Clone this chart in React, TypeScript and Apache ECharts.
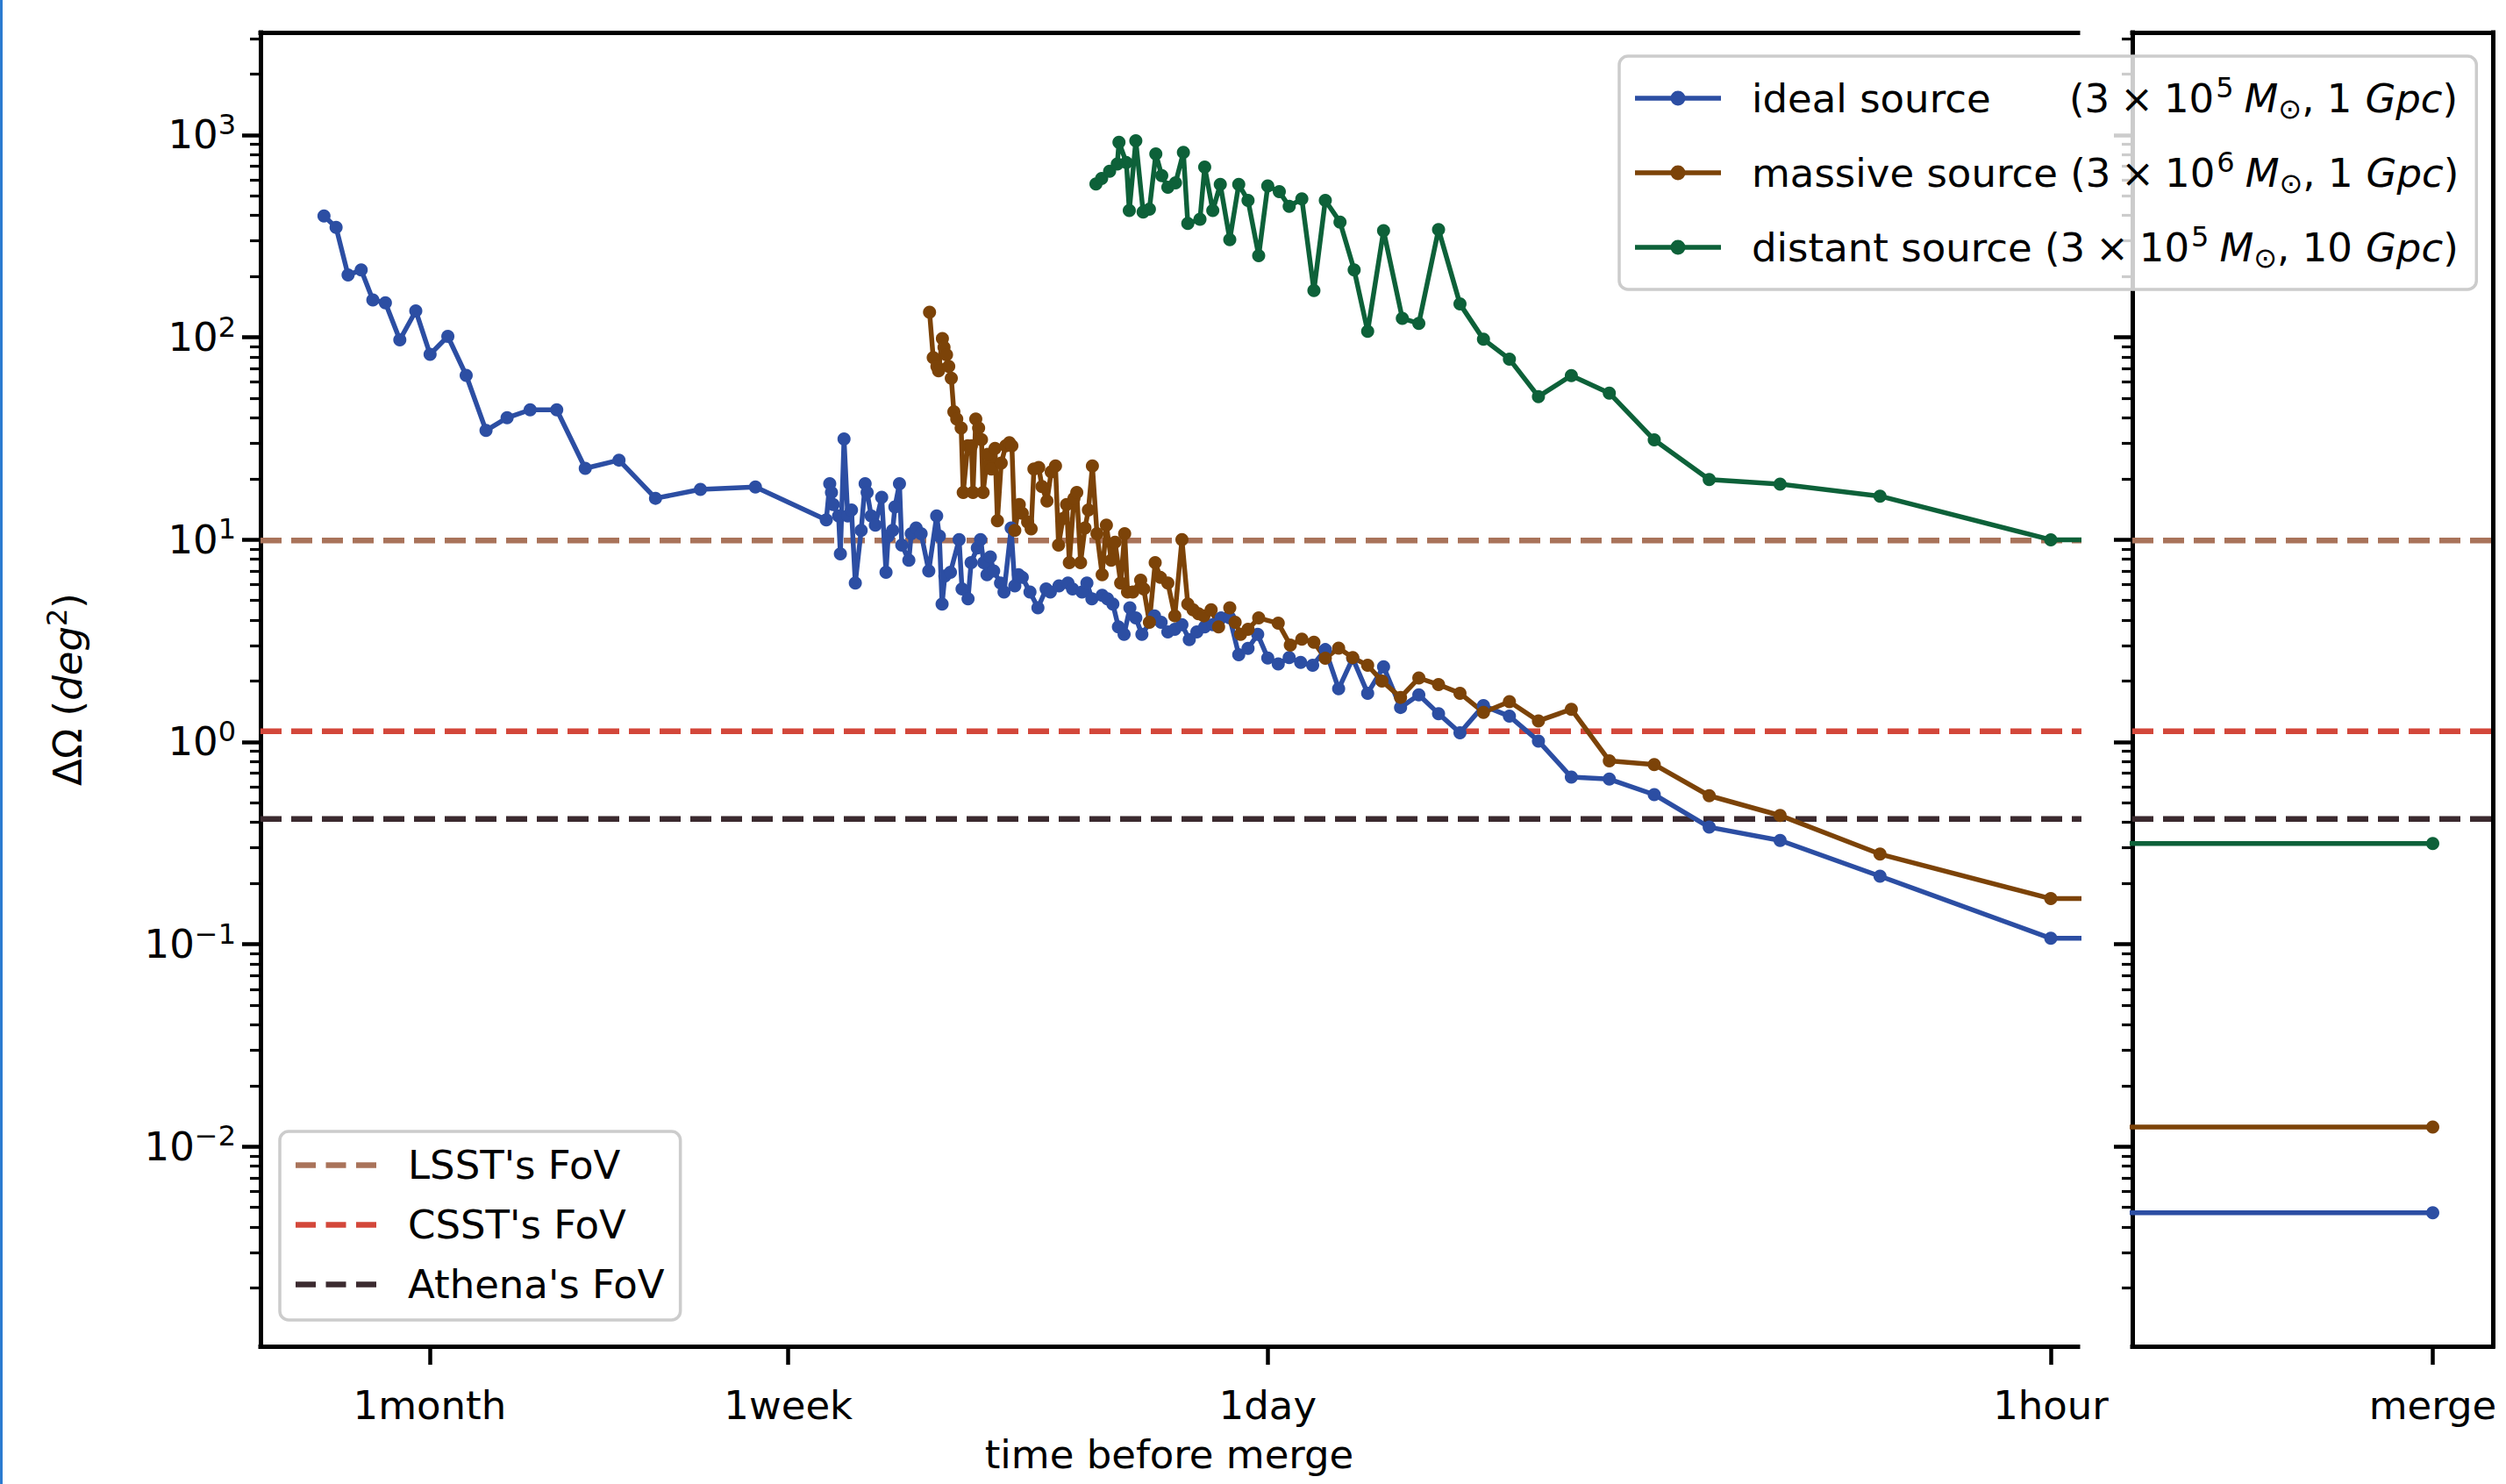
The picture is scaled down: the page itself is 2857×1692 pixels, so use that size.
import React, { useEffect, useRef } from 'react';
import * as echarts from 'echarts';

const FONT = 'DejaVu Sans';

// ---- axes ----
const xTickHours = [720, 168, 24, 1];
const xTickLabels = ['1month', '1week', '1day', '1hour'];
const xRangeHours = [0.8956, 1431];
const yRange = [0.00103, 3210];
const yMajorExponents = [-2, -1, 0, 1, 2, 3];
const yMinorMultipliers = [2, 3, 4, 5, 6, 7, 8, 9];
const mergeTickLabel = 'merge';
const mergeRange = [0, 1.2];
const mergePosition = 1;

// ---- sources ----
const sourceNames = ['ideal source', 'massive source', 'distant source'];
const sourceMassExp = ['5', '6', '5'];
const sourceDistGpc = ['1', '1', '10'];
const sourceColors = ['#2c4ea3', '#7c4308', '#0d6139'];

// hours before merge / sky localisation area (deg^2)
const idealHours = [
  1106, 1053, 1003, 951, 907, 862, 813, 762, 719, 669, 621, 573, 526, 479, 430, 383, 334, 288, 240, 192,
  144, 142, 141, 140, 137, 136, 134, 132, 130, 128, 125, 123, 122, 120, 118, 115, 113, 112, 110, 109,
  107, 106, 103, 102, 100, 98, 95, 92, 91, 90, 89, 87, 84, 83, 81, 80, 78, 77, 76, 75,
  74, 73, 71, 70, 68, 67, 66, 65, 63, 61, 59, 58, 56, 54, 53, 51, 50, 49, 47, 46,
  45, 44, 43, 42, 41, 40, 38, 37, 36, 35, 34, 33, 32, 31, 30, 29, 28, 27, 26, 25, 24,
  23, 22, 21, 20, 19, 18, 17, 16, 15, 14, 13, 12, 11, 10, 9, 8, 7, 6, 5, 4, 3, 2, 1, 0.5,
];
const idealValues = [
  398, 349, 203, 215, 153, 148, 97.1, 135, 82.3, 101, 64.8, 34.6, 40.0, 43.8, 43.8, 22.5, 24.7, 16.0, 17.7, 18.2,
  12.5, 18.9, 17.1, 14.9, 13.1, 8.5, 31.4, 13.1, 14.0, 6.1, 11.1, 18.9, 17.1, 13.1, 11.8, 16.2, 6.9, 10.4, 11.1, 14.5,
  18.9, 9.4, 7.9, 10.7, 11.4, 10.7, 7.0, 13.1, 10.4, 4.8, 6.6, 6.9, 10.0, 5.7, 5.1, 7.7, 9.1, 10.0, 7.7, 6.7,
  8.2, 7.0, 6.1, 5.5, 11.4, 5.9, 6.7, 6.5, 5.5, 4.6, 5.7, 5.5, 5.9, 6.1, 5.7, 5.5, 6.1, 5.1, 5.3, 5.1,
  4.8, 3.7, 3.4, 4.6, 4.1, 3.4, 4.2, 3.9, 3.5, 3.6, 3.8, 3.2, 3.5, 3.7, 3.8, 4.1, 4.1, 2.7, 2.9, 3.4, 2.6,
  2.43, 2.61, 2.47, 2.39, 2.86, 1.83, 2.59, 1.74, 2.35, 1.48, 1.71, 1.38, 1.11, 1.51, 1.34, 1.01, 0.67, 0.655, 0.549, 0.379, 0.326, 0.217, 0.107, 0.107,
];

const massiveHours = [
  94.7, 93.3, 91.9, 91.3, 89.9, 89.3, 88.4, 87.6, 86.7, 85.8,
  84.8, 83.3, 82.6, 81.1, 79.9, 79.4, 78.5, 77.6, 76.7, 76.2,
  74.8, 73.7, 72.6, 71.9, 70.8, 69.5, 68.5, 67.8, 67.0, 65.8,
  65.0, 63.6, 62.7, 62.0, 60.8, 60.0, 58.8, 57.8, 56.8, 56.1,
  55.1, 54.3, 53.7, 52.7, 52.1, 51.3, 50.4, 49.7, 48.9, 48.0,
  47.0, 46.2, 45.3, 44.6, 43.6, 42.9, 42.4, 41.5, 40.2, 39.7,
  38.8, 37.9, 37.1, 36.0, 35.0, 34.0, 33.2, 32.5, 31.8, 31.1,
  30.2, 29.3, 28.0, 27.4, 26.8, 26.0, 24.9, 23.0, 21.9, 20.9,
  19.9, 19.0, 18.0, 17.0, 16.0, 15.1, 14.0, 13.0, 12.0, 11.0,
  10.0, 9.0, 8.0, 7.0, 6.0, 5.0, 4.0, 3.0, 2.0, 1.0, 0.5,
];
const massiveValues = [
  133, 79.3, 71.8, 68.3, 98.6, 89.2, 82.0, 71.8, 62.8, 42.8,
  39.4, 35.6, 17.1, 29.1, 29.1, 17.1, 39.4, 35.6, 31.2, 17.1,
  26.4, 22.3, 28.2, 12.4, 23.9, 29.1, 30.1, 29.1, 11.1, 14.9,
  13.5, 12.2, 11.3, 22.3, 22.7, 18.3, 15.5, 21.6, 23.1, 9.4,
  12.7, 14.9, 7.7, 16.0, 17.1, 7.7, 11.4, 14.0, 23.1, 10.7,
  6.7, 11.8, 7.9, 9.7, 6.1, 10.7, 5.5, 5.5, 6.3, 5.7,
  3.9, 7.7, 6.5, 6.1, 4.2, 10.0, 4.8, 4.5, 4.3, 4.2,
  4.5, 3.7, 4.6, 3.9, 3.4, 3.6, 4.1, 3.86, 3.01, 3.22,
  3.11, 2.59, 2.91, 2.61, 2.39, 2.0, 1.66, 2.07, 1.92, 1.74,
  1.4, 1.58, 1.27, 1.45, 0.807, 0.773, 0.542, 0.433, 0.279, 0.168, 0.168,
];

const distantHours = [
  48.2, 47.1, 45.6, 44.2, 43.9, 42.6, 42.1, 41.0, 39.8, 38.8,
  37.8, 36.9, 36.0, 34.9, 33.8, 33.2, 31.6, 31.0, 30.0, 29.1,
  28.0, 27.0, 26.0, 24.9, 24.0, 22.9, 22.0, 20.9, 19.9, 19.0,
  17.9, 16.9, 16.0, 15.0, 13.9, 13.0, 12.0, 11.0, 10.0, 9.0,
  8.0, 7.0, 6.0, 5.0, 4.0, 3.0, 2.0, 1.0, 0.5,
];
const distantValues = [
  573, 609, 661, 718, 919, 730, 423, 935, 416, 430,
  806, 629, 551, 579, 819, 365, 383, 694, 423, 569,
  304, 569, 475, 253, 560, 524, 444, 483, 170, 475,
  371, 215, 107, 336, 124, 117, 341, 146, 97.7, 78,
  50.9, 64.7, 53.0, 31.1, 19.8, 18.8, 16.4, 9.98, 9.98,
];

// localisation at merge (right panel)
const mergeValues = [0.00471, 0.0125, 0.315];

// fields of view
const fovNames = ["LSST's FoV", "CSST's FoV", "Athena's FoV"];
const fovValues = [9.9, 1.13, 0.416];
const fovColors = ['#a9735a', '#d3473a', '#3b2a2f'];

const sourceHours = [idealHours, massiveHours, distantHours];
const sourceValues = [idealValues, massiveValues, distantValues];

const lg = Math.log10;

function buildOption() {
  const L = { left: 297, top: 37, width: 2072, height: 1498 };
  const R = { left: 2431, top: 37, width: 411, height: 1498 };
  const spine = { show: true, onZero: false, lineStyle: { color: '#000', width: 5, cap: 'square' } };
  const noLine = { show: false, onZero: false };
  const hidden = {
    axisLine: noLine,
    axisTick: { show: false },
    axisLabel: { show: false },
    splitLine: { show: false },
  };
  const yLogMin = lg(yRange[0]);
  const yLogMax = lg(yRange[1]);
  const minorVals: number[] = [];
  for (let k = -3; k <= 3; k++) {
    for (const m of yMinorMultipliers) {
      const v = k + lg(m);
      if (v > yLogMin && v < yLogMax) minorVals.push(v);
    }
  }
  const majorTick = { show: true, length: 21, lineStyle: { color: '#000', width: 4.5 } };
  const minorTick = { show: true, length: 12, lineStyle: { color: '#000', width: 3.2 } };
  const supTxt = (e: number) => (e < 0 ? '\u2212' + Math.abs(e) : String(e));
  const xTickLogs = xTickHours.map(lg);

  const txt = (extra: any = {}) => ({ fontFamily: FONT, fontSize: 45, lineHeight: 56, color: '#000', ...extra });
  const supStyle = { fontFamily: FONT, fontSize: 32, lineHeight: 32, verticalAlign: 'top', color: '#000' };
  const subStyle = { fontFamily: FONT, fontSize: 32, lineHeight: 32, verticalAlign: 'bottom', color: '#000' };

  const series: any[] = [];
  // FoV lines, left and right panels
  fovNames.forEach((name, i) => {
    const common = {
      type: 'line',
      name,
      symbol: 'none',
      silent: true,
      clip: true,
      z: 2,
      lineStyle: { color: fovColors[i], width: 6.5, type: [24, 11] },
      itemStyle: { color: fovColors[i] },
    };
    series.push({ ...common, xAxisIndex: 0, yAxisIndex: 0, data: [[1431, fovValues[i]], [0.3, fovValues[i]]] });
    series.push({ ...common, xAxisIndex: 3, yAxisIndex: 3, data: [[0, fovValues[i]], [2, fovValues[i]]] });
  });
  sourceNames.forEach((name, i) => {
    const common = {
      type: 'line',
      name,
      symbol: 'circle',
      symbolSize: 15,
      showSymbol: true,
      silent: true,
      clip: true,
      z: 3,
      lineStyle: { color: sourceColors[i], width: 5.5 },
      itemStyle: { color: sourceColors[i] },
    };
    series.push({
      ...common,
      xAxisIndex: 0,
      yAxisIndex: 0,
      data: sourceHours[i].map((h, j) => [h, sourceValues[i][j]]),
    });
    series.push({
      ...common,
      xAxisIndex: 3,
      yAxisIndex: 3,
      data: [[-1, mergeValues[i]], [mergePosition, mergeValues[i]]],
    });
  });

  const sourceIcon = 'path://M0,5.2H98V10.8H0Z M40.5,8A8.5,8.5 0 1 1 57.5,8A8.5,8.5 0 1 1 40.5,8Z';
  const fovIcon = 'path://M0,0H23V6.5H0Z M34.5,0H57.5V6.5H34.5Z M69,0H92V6.5H69Z';

  return {
    animation: false,
    backgroundColor: '#ffffff',
    textStyle: { fontFamily: FONT },
    graphic: [
      { type: 'rect', silent: true, shape: { x: 0, y: 0, width: 3, height: 1692 }, style: { fill: '#2b7bd0' } },
    ],
    grid: [
      { ...L, containLabel: false, outerBoundsMode: 'none' },
      { ...R, containLabel: false, outerBoundsMode: 'none' },
    ],
    xAxis: [
      // 0: data axis (log hours), left panel
      { gridIndex: 0, type: 'log', min: xRangeHours[0], max: xRangeHours[1], inverse: true, position: 'bottom', ...hidden },
      // 1: ticks & labels, left panel bottom spine
      {
        gridIndex: 0,
        type: 'value',
        min: lg(xRangeHours[0]),
        max: lg(xRangeHours[1]),
        inverse: true,
        position: 'bottom',
        axisLine: spine,
        axisTick: { ...majorTick, customValues: xTickLogs },
        axisLabel: {
          show: true,
          customValues: xTickLogs,
          margin: 45,
          fontFamily: FONT,
          fontSize: 45,
          color: '#000',
          formatter: (v: number) => {
            let best = 0;
            xTickLogs.forEach((t, i) => {
              if (Math.abs(t - v) < Math.abs(xTickLogs[best] - v)) best = i;
            });
            return xTickLabels[best];
          },
        },
        splitLine: { show: false },
        name: 'time before merge',
        nameLocation: 'middle',
        nameGap: 101,
        nameTextStyle: { fontFamily: FONT, fontSize: 45, color: '#000' },
      },
      // 2: top spine left
      { gridIndex: 0, type: 'value', min: 0, max: 1, position: 'top', ...hidden, axisLine: spine },
      // 3: merge panel x
      {
        gridIndex: 1,
        type: 'value',
        min: mergeRange[0],
        max: mergeRange[1],
        position: 'bottom',
        axisLine: spine,
        axisTick: { ...majorTick, customValues: [mergePosition] },
        axisLabel: {
          show: true,
          customValues: [mergePosition],
          margin: 45,
          fontFamily: FONT,
          fontSize: 45,
          color: '#000',
          formatter: () => mergeTickLabel,
        },
        splitLine: { show: false },
      },
      // 4: top spine right
      { gridIndex: 1, type: 'value', min: 0, max: 1, position: 'top', ...hidden, axisLine: spine },
    ],
    yAxis: [
      // 0: data axis left
      { gridIndex: 0, type: 'log', min: yRange[0], max: yRange[1], position: 'left', ...hidden },
      // 1: major ticks & labels left
      {
        gridIndex: 0,
        type: 'value',
        min: yLogMin,
        max: yLogMax,
        position: 'left',
        axisLine: spine,
        axisTick: { ...majorTick, customValues: yMajorExponents },
        axisLabel: {
          show: true,
          customValues: yMajorExponents,
          margin: 28,
          formatter: (v: number) => `{b|10}{s|${supTxt(Math.round(v))}}`,
          rich: { b: txt(), s: supStyle },
        },
        splitLine: { show: false },
        name: '{t|\u0394\u03a9 (}{i|deg}{s|2}{t|)}',
        nameLocation: 'middle',
        nameGap: 192,
        nameTextStyle: {
          rich: { t: txt(), i: txt({ fontStyle: 'italic' }), s: supStyle },
        },
      },
      // 2: minor ticks left
      {
        gridIndex: 0,
        type: 'value',
        min: yLogMin,
        max: yLogMax,
        position: 'left',
        axisLine: noLine,
        axisTick: { ...minorTick, customValues: minorVals },
        axisLabel: { show: false },
        splitLine: { show: false },
      },
      // 3: data axis right
      { gridIndex: 1, type: 'log', min: yRange[0], max: yRange[1], position: 'left', ...hidden },
      // 4: major ticks right panel (no labels)
      {
        gridIndex: 1,
        type: 'value',
        min: yLogMin,
        max: yLogMax,
        position: 'left',
        axisLine: spine,
        axisTick: { ...majorTick, customValues: yMajorExponents },
        axisLabel: { show: false },
        splitLine: { show: false },
      },
      // 5: minor ticks right panel
      {
        gridIndex: 1,
        type: 'value',
        min: yLogMin,
        max: yLogMax,
        position: 'left',
        axisLine: noLine,
        axisTick: { ...minorTick, customValues: minorVals },
        axisLabel: { show: false },
        splitLine: { show: false },
      },
      // 6: right spine
      { gridIndex: 1, type: 'value', min: 0, max: 1, position: 'right', ...hidden, axisLine: spine },
    ],
    legend: [
      {
        data: sourceNames.map((n, i) => ({
          name: n,
          icon: sourceIcon,
          itemStyle: { color: sourceColors[i], borderWidth: 0, borderColor: 'transparent' },
        })),
        orient: 'vertical',
        left: 1846,
        top: 64,
        align: 'left',
        itemWidth: 98,
        itemHeight: 17,
        itemGap: 29,
        padding: [20, 20, 20, 18],
        backgroundColor: 'rgba(255,255,255,0.8)',
        borderColor: '#cccccc',
        borderWidth: 3.5,
        borderRadius: 10,
        selectedMode: false,
        formatter: (name: string) => {
          const i = sourceNames.indexOf(name);
          return `{n${i}|${name} }{p|(3}{x|\u00d7}{p|10}{sup|${sourceMassExp[i]}}{i|M}{sub|\u2299}{p|, ${sourceDistGpc[i]}}{g|Gpc}{p|)}`;
        },
        textStyle: {
          fontFamily: FONT,
          fontSize: 45,
          color: '#000',
          rich: {
            n0: txt({ width: 362, padding: [0, 0, 0, 30] }),
            n1: txt({ padding: [0, 0, 0, 30] }),
            n2: txt({ padding: [0, 0, 0, 30] }),
            p: txt(),
            x: txt({ padding: [0, 12, 0, 12] }),
            sup: { ...supStyle, padding: [0, 0, 0, 2] },
            sub: subStyle,
            i: txt({ fontStyle: 'italic', padding: [0, 0, 0, 12] }),
            g: txt({ fontStyle: 'italic', padding: [0, 0, 0, 15] }),
          },
        },
      },
      {
        data: fovNames.map((n, i) => ({
          name: n,
          icon: fovIcon,
          itemStyle: { color: fovColors[i], borderWidth: 0, borderColor: 'transparent' },
        })),
        orient: 'vertical',
        left: 319,
        top: 1290,
        align: 'left',
        itemWidth: 92,
        itemHeight: 6.5,
        itemGap: 23,
        padding: [16, 18, 18, 18],
        backgroundColor: 'rgba(255,255,255,0.8)',
        borderColor: '#cccccc',
        borderWidth: 3.5,
        borderRadius: 10,
        selectedMode: false,
        formatter: (name: string) => `{t|${name}}`,
        textStyle: {
          fontFamily: FONT,
          fontSize: 45,
          color: '#000',
          rich: { t: { fontFamily: FONT, fontSize: 45, lineHeight: 50, color: '#000', padding: [0, 0, 0, 31] } },
        },
      },
    ],
    series,
  };
}

export default function App() {
  const ref = useRef<HTMLDivElement>(null);
  useEffect(() => {
    if (!ref.current) return;
    const chart = echarts.init(ref.current, undefined, { renderer: 'svg' });
    chart.setOption(buildOption() as any);
    return () => {
      chart.dispose();
    };
  }, []);
  return (
    <div
      ref={ref}
      style={{ position: 'fixed', left: 0, top: 0, width: 2857, height: 1692, background: '#ffffff' }}
    />
  );
}
